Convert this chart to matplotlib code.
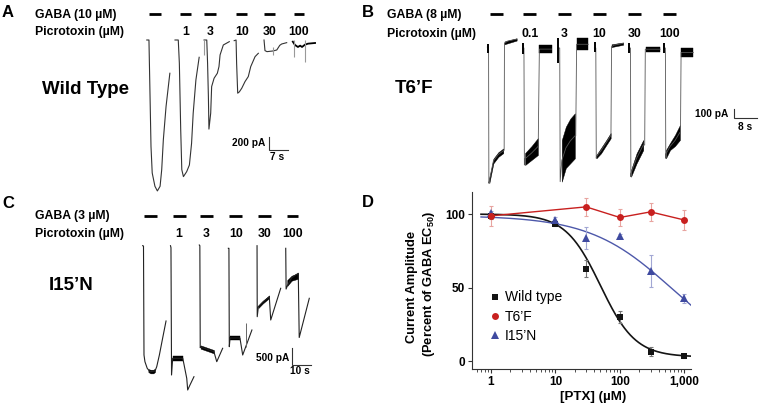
import numpy as np
import matplotlib
matplotlib.use('Agg')
import matplotlib.pyplot as plt
from matplotlib.lines import Line2D
from matplotlib.ticker import LogLocator, NullFormatter
import matplotlib.transforms as mtrans

plt.rcParams['font.family'] = ['Liberation Sans', 'DejaVu Sans']
plt.rcParams['mathtext.fontset'] = 'custom'
plt.rcParams['mathtext.rm'] = 'Liberation Sans'
plt.rcParams['mathtext.bf'] = 'Liberation Sans:bold'
plt.rcParams['mathtext.it'] = 'Liberation Sans:italic'

# ======================= DATA =======================
# ---- Panel A: wild type, GABA 10 uM (time s, current pA) ----
A_conc_labels = ['1', '3', '10', '30', '100']
A_gaba_on = [3.3, 14.7, 23.7, 35.4, 45.7, 56.7]
A_gaba_off = [7.6, 18.8, 27.9, 39.6, 49.8, 60.5]
A_t = [
    [2.5, 3.3, 3.7, 4.05, 4.5, 5.5, 6.4, 7.4, 8.0, 8.6, 9.6, 11.0],
    [12.9, 14.1, 14.5, 15.0, 15.4, 16.0, 17.2, 18.2, 19.0, 19.6, 20.6, 21.8],
    [23.6, 24.6, 24.9, 25.2, 25.4, 26.05, 26.4, 27.3, 28.5, 29.1, 29.5, 30.7, 32.9],
    [34.7, 35.4, 35.6, 36.0, 36.6, 37.5, 38.7, 39.9, 40.8, 42.4, 43.6],
    [45.7, 46.05, 46.8, 49.0, 50.4, 51.5, 52.2, 54.05],
    [56.3, 57.1, 58.2, 59.0, 59.7, 60.8, 61.9, 64.5],
]
A_i = [
    [0, 0, -850, -1600, -2000, -2200, -2270, -2200, -1950, -1500, -1000, -500],
    [0, 0, -350, -1350, -1950, -2055, -1980, -1880, -1555, -1100, -600, -260],
    [0, 0, -350, -850, -1340, -1100, -700, -575, -500, -400, -225, -75, -25],
    [-10, 0, -350, -800, -780, -725, -625, -550, -400, -250, -200],
    [0, -160, -175, -165, -150, -80, -60, -40],
    [-25, -75, -105, -85, -105, -70, -55, -45],
]
A_art_t = [23.6, 49.1, 56.7, 60.8]
A_art_top = [0, -100, 0, 0]
A_art_bot = [-225, -230, -250, -325]

# ---- Panel B: T6'F, GABA 8 uM ----
B_conc_labels = ['0.1', '3', '10', '30', '100']
B_gaba_on = [3.44, 14.88, 26.9, 38.93, 50.96, 62.98]
B_gaba_off = [8.01, 19.24, 31.17, 43.19, 55.33, 67.35]
B_line_t = [
    [2.5, 2.95, 3.05, 3.2, 4.6, 6.3, 8.0, 8.3, 8.4, 9.5, 12.6],
    [14.6, 15.1, 15.25, 15.5, 17.7, 19.9, 20.0, 20.4, 24.6],
    [26.7, 27.4, 27.55, 28.1, 29.5, 31.0, 32.6, 32.9, 33.2, 37.2],
    [39.3, 39.8, 39.95, 40.0, 41.6, 43.4, 44.9, 45.0, 45.2, 46.0, 49.2],
    [51.1, 51.7, 51.85, 51.9, 53.8, 56.1, 56.6, 56.8, 61.9],
    [63.1, 63.7, 63.85, 63.9, 65.3, 67.0, 68.7, 68.9, 69.1, 73.3],
]
B_line_i = [
    [10, 10, -1454, -1430, -1215, -1145, -1105, -1100, 50, 75, 95],
    [0, 0, -1258, -1190, -1130, -1060, -1060, -12, -12],
    [0, 0, -1437, -1210, -1075, -1000, -945, -945, 40, 40],
    [0, 0, -1186, -1168, -1104, -1016, -943, -943, 14, 30, 50],
    [0, 0, -1384, -1348, -1186, -1043, -1043, -13, -13],
    [0, 0, -1186, -1140, -1059, -995, -908, -908, -48, -48],
]
B_band_t = [
    [3.2, 4.6, 6.3, 8.0],
    [15.5, 17.7, 19.9],
    [28.1, 29.5, 31.0, 32.6],
    [40.0, 41.6, 43.4, 44.9],
    [51.9, 53.8, 56.1],
    [63.9, 65.3, 67.0, 68.7],
]
B_band_lo = [
    [-1454, -1240, -1170, -1130],
    [-1258, -1204, -1150],
    [-1437, -1290, -1240, -1186],
    [-1186, -1132, -1043, -971],
    [-1384, -1240, -1097],
    [-1186, -1097, -1054, -989],
]
B_band_hi = [
    [-1400, -1190, -1120, -1080],
    [-1129, -1054, -968],
    [-989, -846, -760, -702],
    [-1150, -1075, -989, -914],
    [-1312, -1132, -989],
    [-1097, -1021, -935, -828],
]
B_plat_t = [[8.4, 12.6], [20.4, 24.6], [33.2, 37.2], [45.2, 49.2], [56.9, 61.9], [69.1, 73.3]]
B_plat_lo = [[40, 80], [-57, -57], [-20, -20], [10, 35], [-40, -40], [-94, -94]]
B_plat_hi = [[70, 105], [32, 32], [104, 104], [40, 60], [14, 14], [-3, -3]]
B_blip_t = [2.85, 14.9, 26.9, 39.5, 51.3, 63.3]
B_blip_top = [40, 50, 104, 65, 54, 54]
B_blip_bot = [-50, -60, -164, -43, -54, -54]

# ---- Panel C: I15'N, GABA 3 uM ----
C_conc_labels = ['1', '3', '10', '30', '100']
C_gaba_on = [2.1, 17.2, 31.6, 47.0, 62.3, 77.2]
C_gaba_off = [8.8, 24.05, 38.3, 53.8, 68.8, 83.3]
C_t = [
    [1.4, 1.84, 2.1, 2.6, 3.8, 5.3, 7.9, 8.8, 10.2, 11.9, 13.7],
    [16.05, 16.3, 16.6, 17.2, 22.5, 22.8, 24.6, 25.1, 26.3, 28.4],
    [31.2, 31.5, 31.7, 31.9, 38.9, 40.4, 43.5],
    [46.5, 46.8, 47.0, 47.4, 52.6, 54.05, 58.9],
    [61.6, 61.7, 62.3, 64.7, 68.05, 68.8, 74.05],
    [76.7, 76.9, 77.5, 79.8, 83.3, 83.8, 89.1],
]
C_i = [
    [0, -9, -3279, -3480, -3678, -3780, -3760, -3630, -3279, -2778, -2259],
    [0, -60, -3879, -3378, -3378, -3459, -3978, -4329, -4179, -3930],
    [21, 0, -3060, -3039, -3180, -3480, -3078],
    [-78, -78, -3030, -2769, -2769, -3279, -2529],
    [0, -2130, -1830, -1689, -1530, -2229, -1278],
    [-78, -1300, -1209, -960, -828, -2754, -1578],
]
C_band_t = [
    [4.4, 5.5, 7.0, 7.9],
    [17.2, 22.5],
    [31.9, 38.9],
    [47.4, 52.6],
    [62.3, 64.7, 68.05],
    [77.5, 79.8, 83.3],
]
C_band_lo = [
    [-3790, -3830, -3830, -3790],
    [-3450, -3450],
    [-3090, -3230],
    [-2840, -2840],
    [-1870, -1730, -1570],
    [-1209, -1050, -990],
]
C_band_hi = [
    [-3700, -3720, -3720, -3690],
    [-3300, -3300],
    [-2990, -3130],
    [-2700, -2700],
    [-1790, -1650, -1490],
    [-1029, -900, -820],
]
C_art_t = [55.6]
C_art_top = [-2319]
C_art_bot = [-3030]

# ---- Panel D: concentration-response ----
ptx = [1, 10, 30, 100, 300, 1000]
wt_mean = [99.0, 93.6, 63.0, 30.3, 6.5, 3.8]
wt_err = [2.0, 2.0, 6.0, 4.0, 3.0, 1.5]
t6f_ptx = [1, 30, 100, 300, 1000]
t6f_mean = [98.8, 104.9, 97.7, 101.5, 96.0]
t6f_err = [7.0, 6.3, 6.0, 6.0, 7.0]
i15n_mean = [100.4, 95.9, 83.9, 85.3, 61.5, 42.7]
i15n_err = [2.0, 2.0, 7.3, 1.5, 11.0, 3.0]
# Hill fits (top, bottom, IC50 uM, slope)
wt_fit_params = (100.0, 3.0, 50.0, 1.6)
i15n_fit_params = (99.0, 0.0, 640.0, 0.68)
legend_labels = ['Wild type', 'T6\u2019F', 'I15\u2019N']

# ======================= FIGURE =======================
W, H = 759, 404
fig = plt.figure(figsize=(W / 100, H / 100), dpi=100)


def fx(x):
    return x / W


def fy(y):
    return 1 - y / H


def ftext(x, y, s, **kw):
    kw.setdefault('fontweight', 'bold')
    fig.text(fx(x), fy(y), s, **kw)


def trace_axes(box, origin, px_per_s, pa_per_px):
    x0, y0, x1, y1 = box
    ox, oy = origin
    ax = fig.add_axes([fx(x0), fy(y1), (x1 - x0) / W, (y1 - y0) / H])
    ax.set_xlim((x0 - ox) / px_per_s, (x1 - ox) / px_per_s)
    ax.set_ylim((oy - y1) * pa_per_px, (oy - y0) * pa_per_px)
    ax.axis('off')
    return ax


def gaba_bars(ax, on, off, ybar, labels, ylab):
    tr = mtrans.blended_transform_factory(ax.transData, fig.transFigure)
    for a, b in zip(on, off):
        ax.add_line(Line2D([a, b], [fy(ybar)] * 2, transform=tr, color='k',
                           lw=2.0, clip_on=False, solid_capstyle='butt'))
    for a, b, lab in zip(on[1:], off[1:], labels):
        ax.text((a + b) / 2, fy(ylab), lab, transform=tr, ha='center',
                va='baseline', fontsize=8.8, fontweight='bold', clip_on=False)


def scale_bar(ax, t0, i0, dt, di):
    ax.plot([t0, t0, t0 + dt], [i0 + di, i0, i0], color='#333', lw=0.8,
            clip_on=False, solid_joinstyle='miter')


# ---------- Panel A ----------
axA = trace_axes((130, 0, 320, 200), (140, 40), 2.714, 15.04)
for k, (t, i) in enumerate(zip(A_t, A_i)):
    axA.plot(t, i, color='#333' if k < 5 else 'k', lw=0.8 if k < 5 else 1.3,
             clip_on=False)
axA.vlines(A_art_t, A_art_bot, A_art_top, color='#999', lw=0.8)
gaba_bars(axA, A_gaba_on, A_gaba_off, 13.5, A_conc_labels, 35)
scale_bar(axA, 47.6, -1654, 7, 200)
ftext(265, 145.5, '200 pA', ha='right', va='baseline', fontsize=7.3)
ftext(276.7, 160.5, '7 s', ha='center', va='baseline', fontsize=7.3)

# ---------- Panel B ----------
axB = trace_axes((470, 0, 759, 200), (480, 48), 2.91, 10.75)
for t, i in zip(B_line_t, B_line_i):
    axB.plot(t, i, color='#555', lw=0.6, clip_on=False)
for t, lo, hi in zip(B_band_t, B_band_lo, B_band_hi):
    axB.fill_between(t, lo, hi, facecolor='k', lw=0.3, edgecolor='k')
for t, lo, hi in zip(B_plat_t, B_plat_lo, B_plat_hi):
    axB.fill_between(t, lo, hi, facecolor='k', lw=0.3, edgecolor='k')
axB.vlines(B_blip_t, B_blip_bot, B_blip_top, color='k', lw=1.4)
gaba_bars(axB, B_gaba_on, B_gaba_off, 14, B_conc_labels, 37.3)
scale_bar(axB, 87.3, -753, 8, 100)
ftext(728.5, 117, '100 pA', ha='right', va='baseline', fontsize=7.3)
ftext(745, 130, '8 s', ha='center', va='baseline', fontsize=7.3)

# ---------- Panel C ----------
axC = trace_axes((130, 200, 320, 400), (140, 245.7), 1.9, 30.0)
for t, i in zip(C_t, C_i):
    axC.plot(t, i, color='#222', lw=0.8, clip_on=False)
for t, lo, hi in zip(C_band_t, C_band_lo, C_band_hi):
    axC.fill_between(t, lo, hi, facecolor='k', lw=0.3, edgecolor='k')
axC.vlines(C_art_t, C_art_bot, C_art_top, color='#666', lw=0.7)
gaba_bars(axC, C_gaba_on, C_gaba_off, 215.7, C_conc_labels, 236.7)
scale_bar(axC, 79.8, -3580, 10, 500)
ftext(289, 361, '500 pA', ha='right', va='baseline', fontsize=7.3)
ftext(300, 374, '10 s', ha='center', va='baseline', fontsize=7.3)

# ---------- header texts ----------
ftext(2, 16.7, 'A', fontsize=12, va='baseline')
ftext(362, 17, 'B', fontsize=12, va='baseline')
ftext(2, 208, 'C', fontsize=12, va='baseline')
ftext(362, 207, 'D', fontsize=12, va='baseline')

ftext(35, 18, 'GABA (10 \u00b5M)', fontsize=8.8, va='baseline')
ftext(35, 35, 'Picrotoxin (\u00b5M)', fontsize=8.8, va='baseline')
ftext(386.7, 18.3, 'GABA (8 \u00b5M)', fontsize=8.8, va='baseline')
ftext(386.7, 37.3, 'Picrotoxin (\u00b5M)', fontsize=8.8, va='baseline')
ftext(35, 219, 'GABA (3 \u00b5M)', fontsize=8.8, va='baseline')
ftext(35, 236.7, 'Picrotoxin (\u00b5M)', fontsize=8.8, va='baseline')

ftext(41.7, 94, 'Wild Type', fontsize=13.5, va='baseline')
ftext(395, 93.3, 'T6\u2019F', fontsize=13.5, va='baseline')
ftext(48.3, 290, 'I15\u2019N', fontsize=13.5, va='baseline')

# ---------- Panel D ----------
axD = fig.add_axes([fx(472), fy(369), 219 / W, 177 / H])
axD.set_xscale('log')
axD.set_xlim(0.507, 1274)
axD.set_ylim(-5.2, 115)


def hill(x, p):
    top, bottom, ic50, n = p
    return bottom + (top - bottom) / (1 + (x / ic50) ** n)


x_wt = np.logspace(np.log10(0.7), np.log10(1250), 300)
x_i15 = np.logspace(np.log10(0.7), np.log10(1274), 300)
wt_col, red_col, blue_col = '#141414', '#c8201f', '#3f4aa0'

axD.plot(x_wt, hill(x_wt, wt_fit_params), color=wt_col, lw=1.2, zorder=2)
axD.plot(x_i15, hill(x_i15, i15n_fit_params), color='#4d58aa', lw=1.0, zorder=2)
axD.plot(t6f_ptx, t6f_mean, color=red_col, lw=1.0, zorder=2)

axD.errorbar(ptx, wt_mean, yerr=wt_err, fmt='none', ecolor='#777', elinewidth=0.8,
             capsize=1.6, capthick=0.8, zorder=3)
axD.errorbar(ptx, i15n_mean, yerr=i15n_err, fmt='none', ecolor='#a2a7d4',
             elinewidth=0.8, capsize=1.6, capthick=0.8, zorder=3)
axD.errorbar(t6f_ptx, t6f_mean, yerr=t6f_err, fmt='none', ecolor='#e8a4a0',
             elinewidth=0.8, capsize=1.6, capthick=0.8, zorder=3)

axD.plot(ptx, wt_mean, 's', color=wt_col, ms=4.2, mew=0, zorder=4)
axD.plot(ptx, i15n_mean, '^', color=blue_col, ms=5.2, mew=0, zorder=5)
axD.plot(t6f_ptx, t6f_mean, 'o', color=red_col, ms=5.0, mew=0, zorder=6)

for s in ['top', 'right']:
    axD.spines[s].set_visible(False)
for s in ['left', 'bottom']:
    axD.spines[s].set_linewidth(0.8)
    axD.spines[s].set_color('#333')

axD.set_xticks([1, 10, 100, 1000], ['1', '10', '100', '1,000'],
               fontweight='bold', fontsize=8.5)
axD.xaxis.set_minor_locator(LogLocator(base=10, subs=np.arange(2, 10), numticks=20))
axD.xaxis.set_minor_formatter(NullFormatter())
axD.set_yticks([0, 50, 100], ['0', '50', '100'], fontweight='bold', fontsize=8.5)
axD.tick_params(which='major', direction='out', length=3, width=0.8, pad=2,
                color='#333')
axD.tick_params(which='minor', direction='out', length=1.8, width=0.6, color='#333')

handles = [
    Line2D([], [], marker='s', ls='none', color=wt_col, ms=4.2, mew=0),
    Line2D([], [], marker='o', ls='none', color=red_col, ms=5.0, mew=0),
    Line2D([], [], marker='^', ls='none', color=blue_col, ms=5.2, mew=0),
]
fig.legend(handles, legend_labels, loc='upper left',
           bbox_to_anchor=(fx(489), fy(290.5)), frameon=False, fontsize=10,
           handlelength=0.8, handletextpad=0.35, labelspacing=0.38,
           borderpad=0, borderaxespad=0)

ftext(411.7, 286.5, 'Current Amplitude', rotation=90, ha='center', va='center',
      fontsize=9.3)
ftext(429, 284, '(Percent of GABA EC$_{\\mathbf{50}}$)', rotation=90,
      ha='center', va='center', fontsize=9.3)
ftext(593, 396.7, '[PTX] (\u00b5M)', ha='center', va='center', fontsize=9.6)

fig.savefig('out.png', dpi=100)
